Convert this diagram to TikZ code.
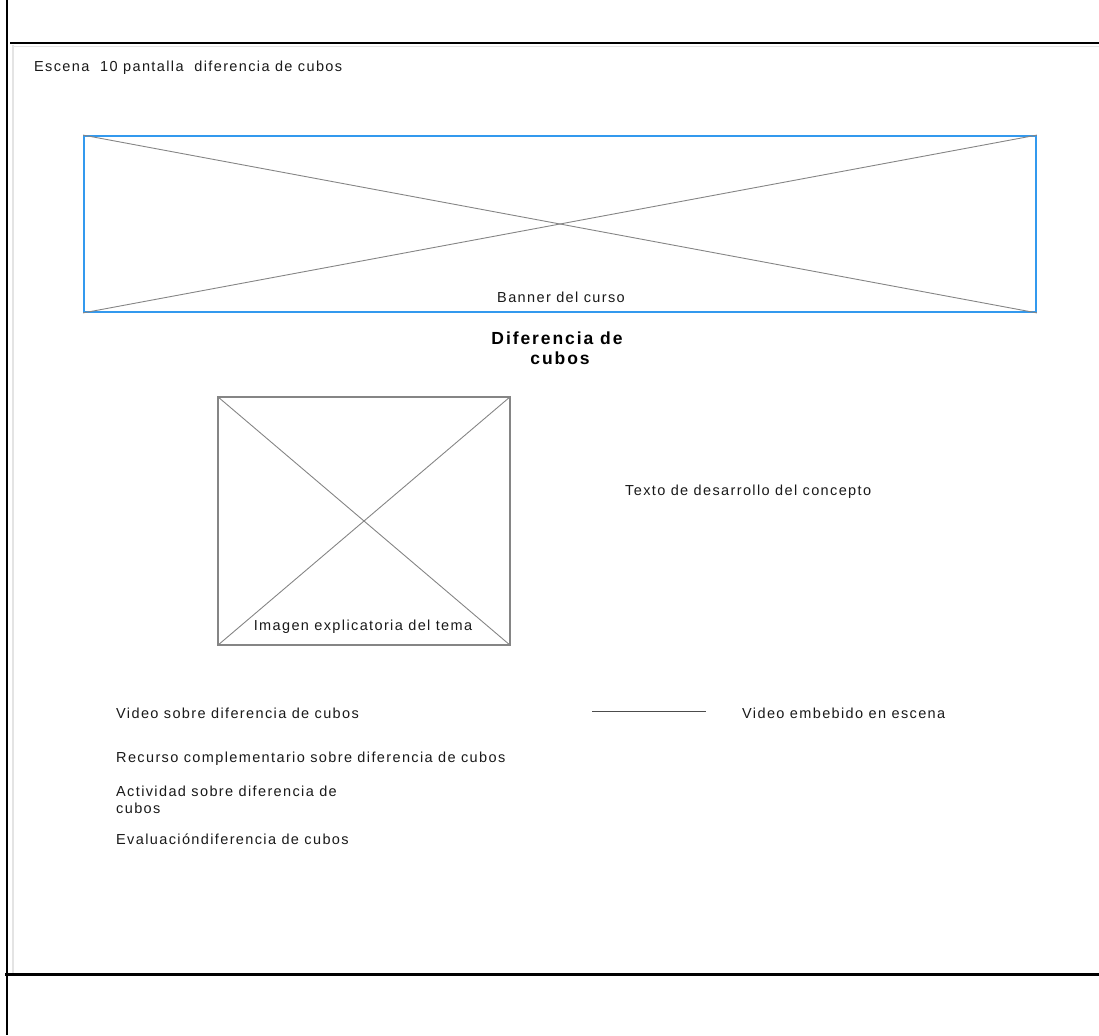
\documentclass[tikz,border=0pt]{standalone}
\usepackage{fontspec}
\setmainfont{Liberation Sans}
\newfontfamily\spacedfont[LetterSpace=9.5]{Liberation Sans}
\newfontfamily\spacedbold[LetterSpace=11]{Liberation Sans Bold}
\definecolor{bannerblue}{HTML}{3399EE}
\definecolor{xgray}{HTML}{858585}
\definecolor{shadegray}{HTML}{E4E4E4}
\tikzset{
  lbl/.style={anchor=base west, inner sep=0pt, font=\spacedfont\fontsize{14.5}{16}\selectfont, text=black!90},
  clbl/.style={anchor=base, inner sep=0pt, font=\spacedfont\fontsize{14.5}{16}\selectfont, text=black!90},
  ttl/.style={anchor=base, inner sep=0pt, font=\spacedbold\fontsize{17.5}{20}\selectfont, text=black},
  frame/.style={line width=#1, black},
  cross/.style={xgray, line width=0.9pt},
}
\begin{document}
\begin{tikzpicture}[x=1pt,y=-1pt]
\useasboundingbox (0,0) rectangle (1099,1035);
% frame
\draw[shadegray, line width=2pt] (12.5,45) -- (12.5,973);
\draw[shadegray, line width=1.5pt] (12,46.5) -- (1099,46.5);
\draw[frame=2pt] (7,0) -- (7,1035);
\draw[frame=1.5pt] (10,43) -- (1099,43);
\draw[frame=3pt] (5,974.5) -- (1099,974.5);
% title
\node[lbl] (scene) at (34,72) {Escena \ 10 pantalla \ diferencia de cubos};
% banner
\node[draw=bannerblue, line width=1.8pt, minimum width=952pt, minimum height=176pt, inner sep=0pt] (banner) at (560,224) {};
\draw[cross] (banner.north west) -- (banner.south east);
\draw[cross] (banner.south west) -- (banner.north east);
\node[clbl] (bannertxt) at (561,302) {Banner del curso};
% heading
\node[ttl] (head1) at (557,344) {Diferencia de};
\node[ttl] (head2) at (560,364) {cubos};
% image
\node[draw=xgray, line width=1.2pt, minimum width=292pt, minimum height=248pt, inner sep=0pt] (img) at (364,521) {};
\draw[cross] (img.north west) -- (img.south east);
\draw[cross] (img.south west) -- (img.north east);
\node[clbl] (imgtxt) at (363,630) {Imagen explicatoria del tema};
% concept text
\node[lbl] (concept) at (625,495) {Texto de desarrollo del concepto};
% list
\node[lbl] (video) at (116,718) {Video sobre diferencia de cubos};
\node[lbl] (recurso) at (116,762) {Recurso complementario sobre diferencia de cubos};
\node[lbl] (act1) at (116,796) {Actividad sobre diferencia de};
\node[lbl] (act2) at (116,813) {cubos};
\node[lbl] (eval) at (116,844) {Evaluacióndiferencia de cubos};
% video note
\coordinate (la) at (592,711);
\coordinate (lb) at (706,711);
\draw[black!70, line width=1pt] (la) -- (lb);
\node[lbl] (embed) at (742,718) {Video embebido en escena};
\end{tikzpicture}
\end{document}
